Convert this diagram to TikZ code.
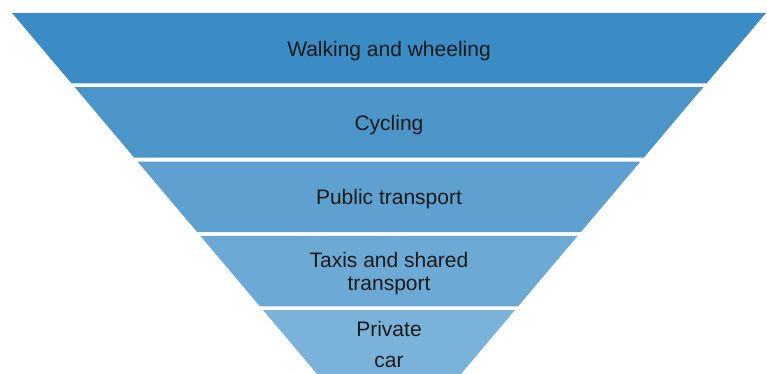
\documentclass[tikz,border=0pt]{standalone}
\usepackage{fontspec}
\setmainfont{Liberation Sans}
\usepackage{xcolor}
\definecolor{walkblue}{RGB}{59,140,196}
\definecolor{cycleblue}{RGB}{76,149,200}
\definecolor{publicblue}{RGB}{94,160,207}
\definecolor{taxiblue}{RGB}{108,169,212}
\definecolor{carblue}{RGB}{122,178,217}
\def\funnelmid{389}

\begin{document}
\begin{tikzpicture}[x=1pt,y=-1pt]
    \tikzstyle{bandtext}=[text=black!90, font=\fontsize{21}{23}\selectfont, align=center, inner sep=0pt]
    \useasboundingbox (0,0) rectangle (767,374);

    % half width of the funnel at height #1
    \def\halfw#1{(377-0.845*(#1-13))}

    % Draw the bands, widest on top
    \foreach \name/\yt/\yb/\col/\txt in {walk/13/83.5/walkblue/Walking and wheeling,
                                         cycle/87.25/157.75/cycleblue/Cycling,
                                         public/161.5/232/publicblue/Public transport,
                                         taxi/235.75/306.25/taxiblue/{Taxis and shared\\transport},
                                         car/310/374/carblue/{Private\\[8pt]car}}
    {
        \fill[\col] ({\funnelmid-\halfw{\yt}},\yt) -- ({\funnelmid+\halfw{\yt}},\yt)
            -- ({\funnelmid+\halfw{\yb}},\yb) -- ({\funnelmid-\halfw{\yb}},\yb) -- cycle;
        \node[bandtext] (\name) at (\funnelmid,{(\yt+\yb)/2+2.5}) {\txt};
    }
\end{tikzpicture}
\end{document}
